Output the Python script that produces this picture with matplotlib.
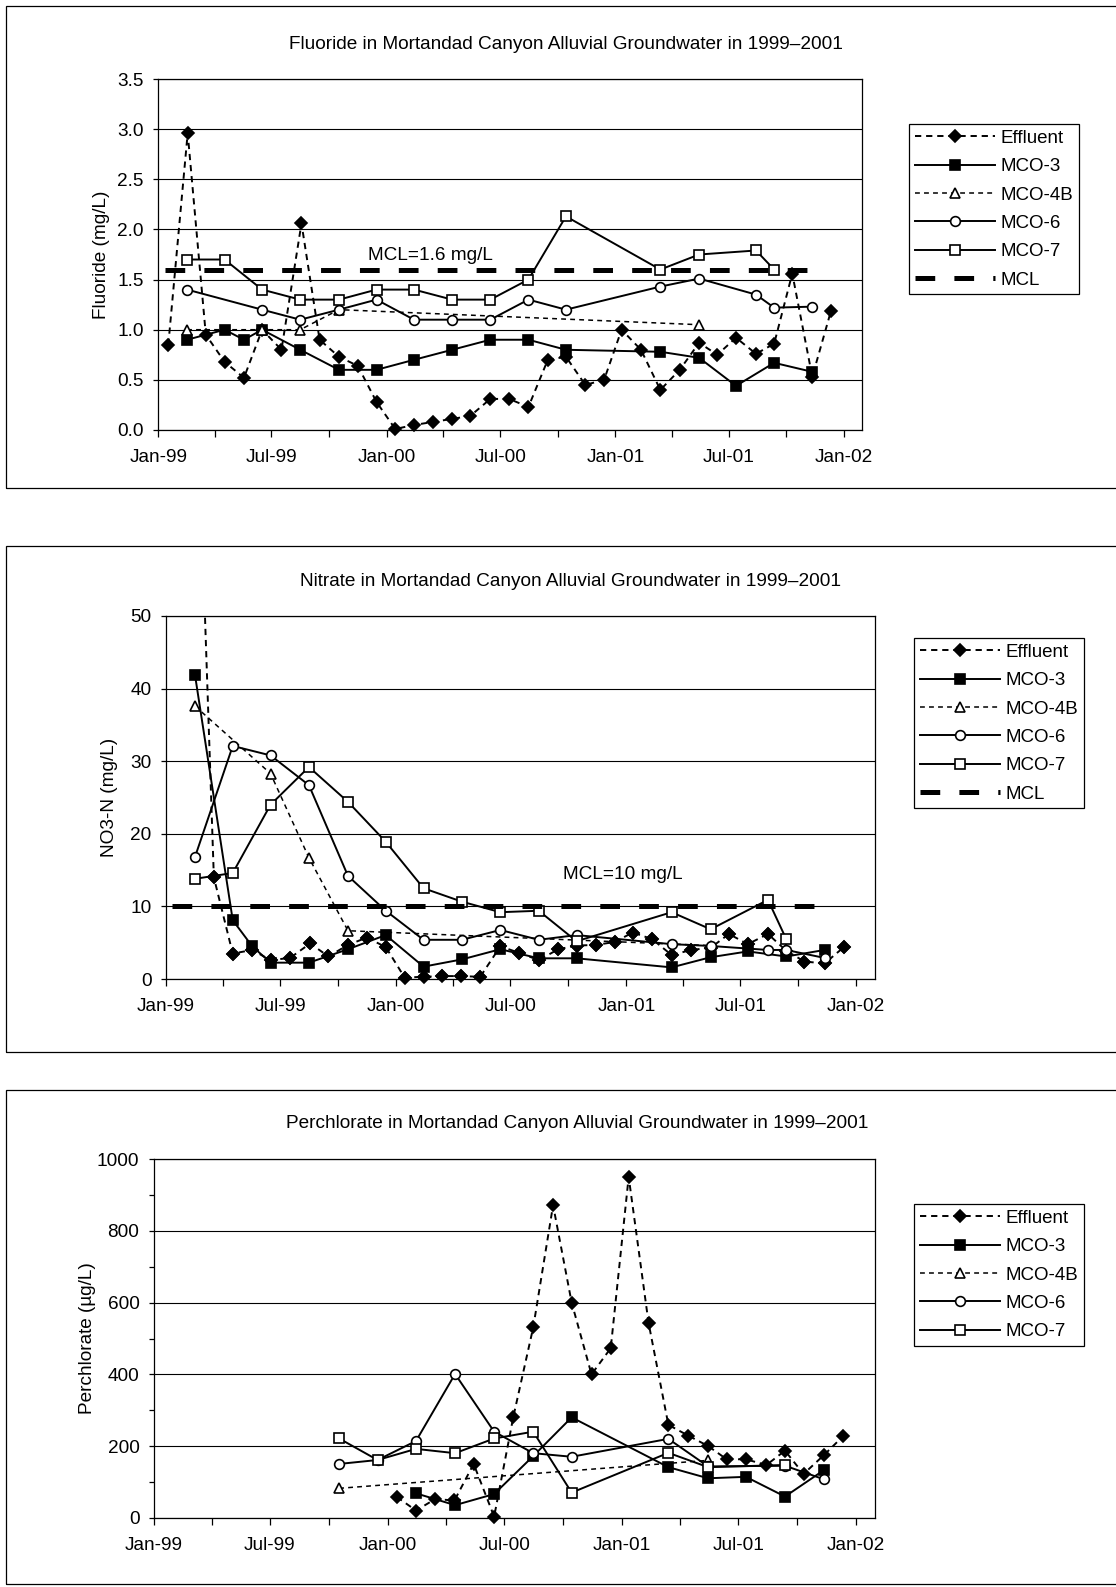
import numpy as np
import pandas as pd
import matplotlib
matplotlib.use('Agg')
import matplotlib.pyplot as plt
import matplotlib.dates as mdates
from matplotlib.patches import Rectangle
from matplotlib.ticker import MultipleLocator, FormatStrFormatter

W, H = 1116, 1587  # page size in pixels

plt.rcParams['font.family'] = ['Liberation Sans', 'DejaVu Sans']
plt.rcParams['lines.scale_dashes'] = False

# ---------------------------------------------------------------------------
# Sampling dates
# ---------------------------------------------------------------------------
# monthly effluent samples, Jan-99 .. Dec-01
eff_dates = ['1999-01-17', '1999-02-17', '1999-03-18', '1999-04-17', '1999-05-18', '1999-06-16',
             '1999-07-17', '1999-08-18', '1999-09-16', '1999-10-17', '1999-11-16', '1999-12-16',
             '2000-01-15', '2000-02-14', '2000-03-15', '2000-04-14', '2000-05-14', '2000-06-15',
             '2000-07-15', '2000-08-15', '2000-09-15', '2000-10-14', '2000-11-14', '2000-12-14',
             '2001-01-11', '2001-02-11', '2001-03-14', '2001-04-14', '2001-05-15', '2001-06-13',
             '2001-07-13', '2001-08-14', '2001-09-12', '2001-10-11', '2001-11-12', '2001-12-12']

mco3_dates = ['1999-02-16', '1999-04-17', '1999-05-18', '1999-06-16', '1999-08-16', '1999-10-17',
              '1999-12-16', '2000-02-14', '2000-04-15', '2000-06-15', '2000-08-15', '2000-10-14',
              '2001-03-14', '2001-05-15', '2001-07-13', '2001-09-12', '2001-11-12']
mco4b_dates = ['1999-02-16', '1999-06-16', '1999-08-16', '1999-10-17', '2001-05-15']
mco6_f_dates = ['1999-02-16', '1999-06-16', '1999-08-16', '1999-10-17', '1999-12-16', '2000-02-14',
                '2000-04-15', '2000-06-15', '2000-08-15', '2000-10-14', '2001-03-14', '2001-05-15',
                '2001-08-14', '2001-09-12', '2001-11-12']
mco6_n_dates = ['1999-02-16', '1999-04-17', '1999-06-16', '1999-08-16', '1999-10-17', '1999-12-16',
                '2000-02-14', '2000-04-15', '2000-06-15', '2000-08-15', '2000-10-14', '2001-03-14',
                '2001-05-15', '2001-08-14', '2001-09-12', '2001-11-12']
mco7_dates = ['1999-02-16', '1999-04-17', '1999-06-16', '1999-08-16', '1999-10-17', '1999-12-16',
              '2000-02-14', '2000-04-15', '2000-06-15', '2000-08-15', '2000-10-14', '2001-03-14',
              '2001-05-15', '2001-08-14', '2001-09-12']
mcl_dates = ['1999-01-11', '2001-11-14']

# ---------------------------------------------------------------------------
# Fluoride (mg/L)
# ---------------------------------------------------------------------------
f_eff = [0.85, 2.96, 0.95, 0.68, 0.52, 1.00, 0.80, 2.06, 0.90, 0.73, 0.64, 0.28,
         0.01, 0.05, 0.08, 0.11, 0.14, 0.31, 0.31, 0.23, 0.70, 0.73, 0.45, 0.50,
         1.00, 0.80, 0.40, 0.60, 0.87, 0.75, 0.92, 0.76, 0.86, 1.56, 0.53, 1.19]
f_mco3 = [0.90, 1.00, 0.90, 1.00, 0.80, 0.60, 0.60, 0.70, 0.80, 0.90, 0.90, 0.80,
          0.78, 0.72, 0.44, 0.67, 0.58]
f_mco4b = [1.00, 1.00, 1.00, 1.20, 1.05]
f_mco6 = [1.40, 1.20, 1.10, 1.20, 1.30, 1.10, 1.10, 1.10, 1.30, 1.20, 1.43, 1.51, 1.35, 1.22, 1.23]
f_mco7 = [1.70, 1.70, 1.40, 1.30, 1.30, 1.40, 1.40, 1.30, 1.30, 1.50, 2.13, 1.60, 1.75, 1.79, 1.60]
f_mcl = [1.6, 1.6]

# ---------------------------------------------------------------------------
# Nitrate as N (mg/L); effluent record starts Feb-99
# ---------------------------------------------------------------------------
n_eff = [88.0, 14.0, 3.5, 4.0, 2.6, 2.9, 4.9, 3.1, 4.7, 5.7, 4.4,
         0.2, 0.3, 0.4, 0.4, 0.3, 4.5, 3.6, 2.6, 4.1, 4.6, 4.7, 5.1,
         6.4, 5.5, 3.3, 4.0, 4.3, 6.2, 4.8, 6.2, 3.9, 2.4, 2.15, 4.35]
n_mco3 = [41.9, 8.1, 4.5, 2.25, 2.25, 4.1, 6.05, 1.7, 2.7, 4.1, 2.85, 2.85,
          1.6, 3.0, 3.8, 3.1, 4.0]
n_mco4b = [37.6, 28.3, 16.7, 6.65, 4.6]
n_mco6 = [16.8, 32.1, 30.8, 26.7, 14.2, 9.4, 5.4, 5.4, 6.75, 5.4, 6.05, 4.8, 4.55, 4.0, 4.0, 2.9]
n_mco7 = [13.8, 14.6, 24.0, 29.2, 24.4, 18.9, 12.5, 10.65, 9.2, 9.4, 5.2, 9.2, 6.85, 10.9, 5.5]
n_mcl = [10, 10]

# ---------------------------------------------------------------------------
# Perchlorate (ug/L); effluent record starts Jan-00
# ---------------------------------------------------------------------------
p_eff = [58, 20, 52, 48, 150, 3, 282, 531, 872, 600, 400, 473,
         951, 544, 259, 229, 200, 163, 163, 147, 187, 122, 175, 228]
p_mco3_dates = ['2000-02-14', '2000-04-15', '2000-06-15', '2000-08-15', '2000-10-14',
                '2001-03-14', '2001-05-15', '2001-07-13', '2001-09-12', '2001-11-12']
p_mco3 = [68, 35, 66, 172, 280, 141, 110, 114, 59, 133]
p_mco4b_dates = ['1999-10-17', '2001-05-15']
p_mco4b = [82, 160]
p_mco6_dates = ['1999-10-17', '1999-12-16', '2000-02-14', '2000-04-15', '2000-06-15', '2000-08-15',
                '2000-10-14', '2001-03-14', '2001-05-15', '2001-09-12', '2001-11-12']
p_mco6 = [150, 161, 214, 401, 240, 180, 170, 220, 143, 145, 107]
p_mco7_dates = ['1999-10-17', '1999-12-16', '2000-02-14', '2000-04-15', '2000-06-15', '2000-08-15',
                '2000-10-14', '2001-03-14', '2001-05-15', '2001-09-12']
p_mco7 = [221, 161, 192, 180, 221, 240, 70, 181, 141, 147]

# line / marker style per series
style = {
    'Effluent': dict(ls=(0, (4.5, 3.5)), lw=1.4, marker='D', ms=5.9, mfc='black'),
    'MCO-3': dict(ls='-', lw=1.4, marker='s', ms=7.5, mfc='black'),
    'MCO-4B': dict(ls=(0, (3.5, 3.0)), lw=1.1, marker='^', ms=7, mfc='white'),
    'MCO-6': dict(ls='-', lw=1.4, marker='o', ms=7, mfc='white'),
    'MCO-7': dict(ls='-', lw=1.4, marker='s', ms=7.5, mfc='white'),
    'MCL': dict(ls=(0, (14.2, 13.8)), lw=3.6, marker=None),
}

FS = 13.7

fig = plt.figure(figsize=(W / 100, H / 100), dpi=100)


def px_rect(l, t, r, b):
    return [l / W, 1 - b / H, (r - l) / W, (b - t) / H]


def add_legend(ax, legend_xy):
    handles, labels = ax.get_legend_handles_labels()
    leg = fig.legend(handles, labels, loc='upper left',
                     bbox_to_anchor=(legend_xy[0] / W, 1 - legend_xy[1] / H),
                     frameon=True, fancybox=False, framealpha=1, edgecolor='black',
                     fontsize=13.5, handlelength=4.3, handletextpad=0.3,
                     labelspacing=0.6, borderpad=0.3, borderaxespad=0)
    leg.get_frame().set_linewidth(0.9)


def panel(rect, series, ymax, ystep, yfmt, title, title_xy, ylabel, ylabel_x,
          legend_xy, minor_y=None):
    ax = fig.add_axes(px_rect(*rect))
    for name, dates, vals in series:
        x = pd.to_datetime(dates)
        v = np.array(vals, dtype=float)
        kw = dict(color='black', mec='black', mew=1.2)
        kw.update(style[name])
        if v.max() > ymax:
            # keep the runaway segment inside the plot, markers stay unclipped
            ax.plot(x, v, label=name, clip_on=True, **kw)
            inside = v <= ymax
            ax.plot(x[inside], v[inside], ls='none', marker=kw['marker'], ms=kw['ms'],
                    mfc=kw['mfc'], mec='black', mew=1.2, clip_on=False)
        else:
            ax.plot(x, v, label=name, clip_on=False, **kw)

    ax.set_xlim(pd.Timestamp('1999-01-01'), pd.Timestamp('2002-01-31'))
    ax.set_ylim(0, ymax)
    ax.xaxis.set_major_locator(mdates.MonthLocator(bymonth=[1, 7]))
    ax.xaxis.set_minor_locator(mdates.MonthLocator(bymonth=[4, 10]))
    ax.xaxis.set_major_formatter(mdates.DateFormatter('%b-%y'))
    ax.yaxis.set_major_locator(MultipleLocator(ystep))
    ax.yaxis.set_major_formatter(FormatStrFormatter(yfmt))
    if minor_y:
        ax.yaxis.set_minor_locator(MultipleLocator(minor_y))
    ax.tick_params(axis='x', which='both', direction='out', length=5, width=0.9,
                   pad=9, labelsize=FS)
    ax.tick_params(axis='y', which='both', direction='out', length=3.5, width=0.9,
                   pad=7, labelsize=FS)
    for s in ax.spines.values():
        s.set_linewidth(0.9)
        s.set_color('black')
    ax.grid(axis='y', color='black', lw=0.8)
    ax.set_axisbelow(True)

    fig.text(title_xy[0] / W, 1 - title_xy[1] / H, title, ha='center', va='center',
             fontsize=FS)
    fig.text(ylabel_x / W, 1 - (rect[1] + rect[3]) / 2 / H, ylabel, rotation=90,
             ha='center', va='center', fontsize=FS)
    add_legend(ax, legend_xy)
    return ax


# outer frames around the three charts (right edge runs off the page)
for t, b in [(6, 488), (546, 1052), (1090, 1584)]:
    fig.add_artist(Rectangle((6 / W, 1 - b / H), (1120 - 6) / W, (b - t) / H,
                             transform=fig.transFigure, fill=False, lw=0.9,
                             edgecolor='black'))

# --- Fluoride ---
ax1 = panel((158.3, 79, 862.3, 430),
            [('Effluent', eff_dates, f_eff), ('MCO-3', mco3_dates, f_mco3),
             ('MCO-4B', mco4b_dates, f_mco4b), ('MCO-6', mco6_f_dates, f_mco6),
             ('MCO-7', mco7_dates, f_mco7), ('MCL', mcl_dates, f_mcl)],
            3.5, 0.5, '%.1f',
            'Fluoride in Mortandad Canyon Alluvial Groundwater in 1999\u20132001', (565.5, 44.5),
            'Fluoride (mg/L)', 101.5, (909, 124))
ax1.text(0.386, 0.484, 'MCL=1.6 mg/L', transform=ax1.transAxes, ha='center',
         va='baseline', fontsize=FS)

# --- Nitrate ---
ax2 = panel((166, 616, 875, 979),
            [('Effluent', eff_dates[1:], n_eff), ('MCO-3', mco3_dates, n_mco3),
             ('MCO-4B', mco4b_dates, n_mco4b), ('MCO-6', mco6_n_dates, n_mco6),
             ('MCO-7', mco7_dates, n_mco7), ('MCL', mcl_dates, n_mcl)],
            50, 10, '%d',
            'Nitrate in Mortandad Canyon Alluvial Groundwater in 1999\u20132001', (570.5, 582),
            'NO3-N (mg/L)', 109.5, (914, 638))
ax2.text(0.645, 0.276, 'MCL=10 mg/L', transform=ax2.transAxes, ha='center',
         va='baseline', fontsize=FS)

# --- Perchlorate ---
ax3 = panel((154, 1159.3, 875.3, 1517.7),
            [('Effluent', eff_dates[12:], p_eff), ('MCO-3', p_mco3_dates, p_mco3),
             ('MCO-4B', p_mco4b_dates, p_mco4b), ('MCO-6', p_mco6_dates, p_mco6),
             ('MCO-7', p_mco7_dates, p_mco7)],
            1000, 200, '%d',
            'Perchlorate in Mortandad Canyon Alluvial Groundwater in 1999\u20132001', (577, 1123),
            'Perchlorate (\u00b5g/L)', 87.5, (914, 1204), minor_y=100)

fig.savefig('out.png', dpi=100)
